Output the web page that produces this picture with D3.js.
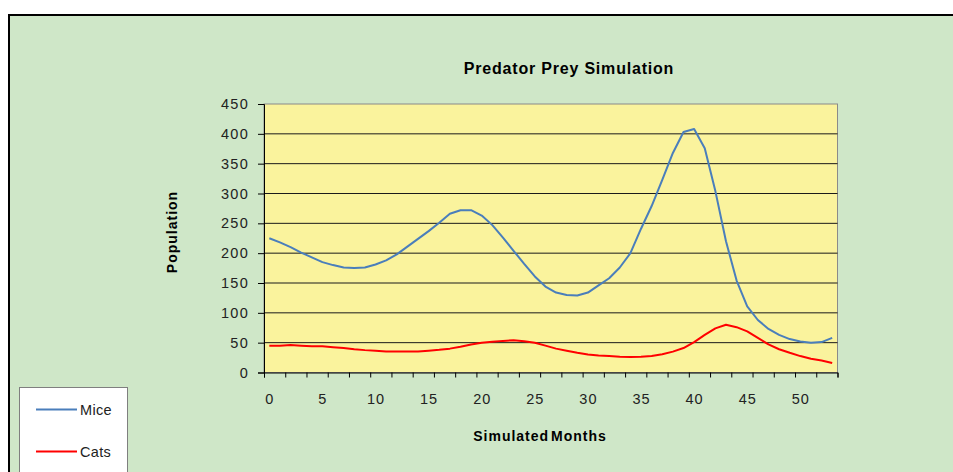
<!DOCTYPE html>
<html><head><meta charset="utf-8">
<script src="https://cdn.jsdelivr.net/npm/d3@7"></script>
<style>
body{margin:0;background:#fff;}
svg{display:block;font-family:"Liberation Sans",Arial,sans-serif;}
</style>
</head><body>
<svg id="c" width="953" height="472"></svg>
<script>
const months = [0,1,2,3,4,5,6,7,8,9,10,11,12,13,14,15,16,17,18,19,20,21,22,23,24,25,26,27,28,29,30,31,32,33,34,35,36,37,38,39,40,41,42,43,44,45,46,47,48,49,50,51,52,53];
const mice = [225,218,210,201,193,185,180,176,175,176,181,188,198,211,224,237,251,266,272,272,263,247,226,204,182,161,144,134,130,129,134,146,158,176,200,241,279,323,368,403,408,376,304,220,154,111,88,73,63,56,52,50,51,58];
const cats = [45,45,46,45,44,44,42.5,41,39,37.5,36.5,35,35,35,35,36.5,38,40,43,47,50,51.5,53,54,52.5,50,45,40,36.5,33,30,28.5,27.5,26.5,26,26.5,27.5,30.5,35,41,51,63,74,80,76,69,58,47,39,33,27.5,23,20,16];
const yTicks = [0,50,100,150,200,250,300,350,400,450];
const xTickLabels = [0,5,10,15,20,25,30,35,40,45,50];
const seriesNames = ["Mice","Cats"];
const seriesColors = ["#4A7EBB","#FF0000"];

const svg = d3.select("#c");
const L = 264, R = 837.5, T = 104, B = 372.5;

// chart area
svg.append("rect").attr("x",9).attr("y",15).attr("width",980).attr("height",500)
  .attr("fill","#CFE7C8").attr("stroke","#000").attr("stroke-width",2);

const xb = d3.scaleLinear().domain([0, months.length]).range([L, R]);
const xc = m => xb(months.indexOf(m) + 0.5);
const y = d3.scaleLinear().domain([0, 450]).range([B, T]);

// plot area
svg.append("rect").attr("x",L).attr("y",T).attr("width",R-L).attr("height",B-T)
  .attr("fill","#FAF39D").attr("stroke","#8a8a8a").attr("stroke-width",1);

// gridlines
svg.append("g").selectAll("line").data(yTicks.slice(1,-1)).join("line")
  .attr("x1",L).attr("x2",R).attr("y1",d=>y(d)).attr("y2",d=>y(d))
  .attr("stroke","#1a1a1a").attr("stroke-width",1);

// y axis
const yAxis = svg.append("g").attr("transform",`translate(${L},0)`)
  .call(d3.axisLeft(y).tickValues(yTicks).tickSize(6).tickPadding(9));
yAxis.select(".domain").attr("stroke","#000");
yAxis.selectAll(".tick line").attr("stroke","#000");
yAxis.selectAll("text").attr("font-size",14.5).attr("fill","#222").attr("letter-spacing","1.3px")
  .attr("font-family","'Liberation Sans',Arial,sans-serif");

// x axis (category boundaries, tick every 2)
const xAxis = svg.append("g").attr("transform",`translate(0,${B})`)
  .call(d3.axisBottom(xb).tickValues(d3.range(0, months.length + 1, 2)).tickSize(5).tickFormat(""));
xAxis.select(".domain").attr("stroke","#000");
xAxis.selectAll(".tick line").attr("stroke","#000");

svg.append("g").selectAll("text").data(xTickLabels).join("text")
  .attr("x",d=>xc(d)+0.5).attr("y",404).attr("text-anchor","middle")
  .attr("font-size",14.5).attr("fill","#222").attr("letter-spacing","1px").text(d=>d);

// lines
const line = d3.line().x((d,i)=>xc(months[i])).y(d=>y(d));
[mice, cats].forEach((s,k)=>{
  svg.append("path").datum(s).attr("d",line).attr("fill","none")
    .attr("stroke",seriesColors[k]).attr("stroke-width",2).attr("stroke-linejoin","round");
});

// titles
svg.append("text").attr("x",569).attr("y",74).attr("text-anchor","middle")
  .attr("font-size",16).attr("font-weight","bold").attr("letter-spacing","0.8px").attr("fill","#000")
  .text("Predator Prey Simulation");
svg.append("text").attr("transform","translate(177,232) rotate(-90)").attr("text-anchor","middle")
  .attr("font-size",14).attr("font-weight","bold").attr("letter-spacing","1px").attr("fill","#000")
  .text("Population");
svg.append("text").attr("x",540).attr("y",441).attr("text-anchor","middle")
  .attr("font-size",14).attr("font-weight","bold").attr("letter-spacing","1px").attr("word-spacing","-3px").attr("fill","#000")
  .text("Simulated Months");

// legend
svg.append("rect").attr("x",19.5).attr("y",387.5).attr("width",108).attr("height",120)
  .attr("fill","#fff").attr("stroke","#7f7f7f");
const lg = svg.append("g").selectAll("g").data(seriesNames).join("g")
  .attr("transform",(d,i)=>`translate(0,${409.5 + i*42})`);
lg.append("line").attr("x1",36).attr("x2",77).attr("y1",0).attr("y2",0)
  .attr("stroke",(d,i)=>seriesColors[i]).attr("stroke-width",2);
lg.append("text").attr("x",80).attr("y",5).attr("font-size",14.5).attr("fill","#222")
  .attr("letter-spacing","0.3px").text(d=>d);
</script>
</body></html>
